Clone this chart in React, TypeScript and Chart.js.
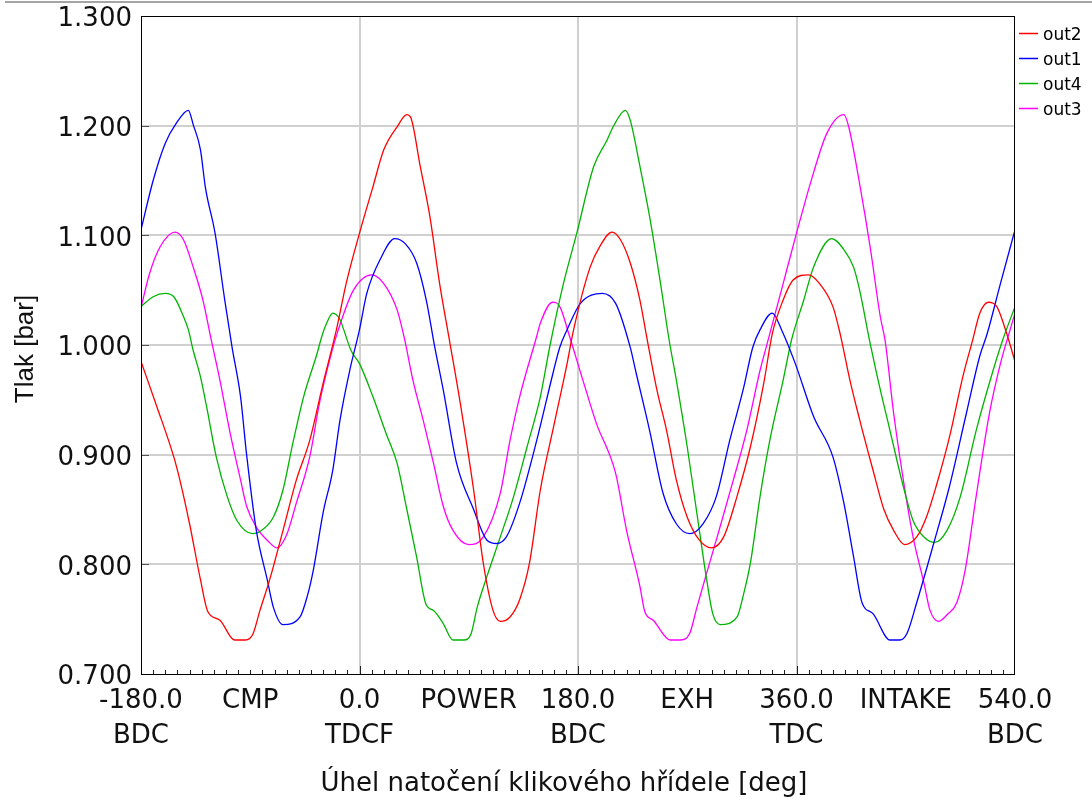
import { useEffect, useRef } from 'react';
import { Chart, registerables } from 'chart.js';

Chart.register(...registerables);

// ---- data ----
const SERIES_LABELS = ['out2', 'out1', 'out4', 'out3'];
const SERIES_COLORS = ['#ff0000', '#0000ff', '#00b400', '#ff00ff'];

const out2Angle = [-180, -167, -153, -148, -140, -131, -125, -115, -103, -94, -88, -82, -74, -63, -52, -41, -30, -19, -11, 0, 11, 20, 31, 39, 42, 50, 58, 66, 74, 83, 94, 102, 110, 116, 124, 132, 140, 149, 160, 171, 176, 190, 198, 208, 215, 223, 231, 237, 245, 253, 261, 270, 280, 290, 300, 311, 322, 333, 340, 349, 357, 370, 379, 390, 396, 404, 412, 423, 432, 440, 449, 459, 467, 475, 486, 497, 505, 511, 518, 525, 533, 540];
const out2Pressure = [0.985, 0.944, 0.898, 0.877, 0.837, 0.786, 0.757, 0.749, 0.731, 0.731, 0.736, 0.758, 0.786, 0.831, 0.877, 0.913, 0.965, 1.014, 1.056, 1.102, 1.144, 1.178, 1.199, 1.210, 1.208, 1.163, 1.117, 1.056, 1.005, 0.947, 0.868, 0.801, 0.758, 0.748, 0.752, 0.768, 0.801, 0.868, 0.926, 0.983, 1.012, 1.071, 1.090, 1.103, 1.096, 1.075, 1.041, 1.005, 0.959, 0.922, 0.877, 0.843, 0.822, 0.815, 0.825, 0.862, 0.907, 0.965, 1.010, 1.041, 1.059, 1.064, 1.056, 1.035, 1.010, 0.968, 0.932, 0.886, 0.850, 0.831, 0.818, 0.825, 0.843, 0.871, 0.916, 0.971, 1.004, 1.029, 1.039, 1.035, 1.011, 0.985];

const out1Angle = [-180, -170, -160, -151, -141, -137, -131, -127, -119, -111, -105, -98, -93, -85, -76, -71, -63, -49, -43, -38, -30, -22, -16, -8, 0, 6, 17, 29, 38, 47, 55, 62, 69, 80, 94, 105, 113, 121, 132, 146, 160, 165, 171, 182, 200, 211, 223, 228, 239, 250, 261, 272, 283, 294, 305, 316, 324, 330, 340, 348, 359, 374, 390, 399, 407, 414, 423, 437, 445, 451, 459, 473, 486, 500, 511, 517, 528, 540];
const out1Pressure = [1.105, 1.150, 1.184, 1.202, 1.214, 1.201, 1.178, 1.144, 1.102, 1.041, 0.998, 0.953, 0.900, 0.831, 0.786, 0.761, 0.745, 0.752, 0.771, 0.795, 0.847, 0.886, 0.932, 0.977, 1.014, 1.047, 1.078, 1.097, 1.092, 1.075, 1.041, 0.998, 0.959, 0.892, 0.850, 0.822, 0.819, 0.825, 0.856, 0.913, 0.977, 0.998, 1.014, 1.038, 1.047, 1.038, 0.998, 0.974, 0.922, 0.865, 0.837, 0.828, 0.837, 0.862, 0.913, 0.959, 0.998, 1.014, 1.029, 1.013, 0.983, 0.935, 0.898, 0.856, 0.807, 0.765, 0.755, 0.731, 0.731, 0.737, 0.765, 0.819, 0.871, 0.938, 0.990, 1.010, 1.056, 1.105];

const out4Angle = [-180, -170, -160, -153, -145, -141, -137, -131, -126, -118, -109, -101, -88, -82, -71, -63, -55, -46, -35, -31, -27, -22, -16, -13, -7, 0, 11, 22, 31, 39, 47, 55, 61, 69, 77, 86, 92, 97, 105, 116, 127, 138, 149, 157, 168, 179, 193, 204, 209, 219, 223, 231, 239, 248, 255, 261, 270, 278, 286, 291, 297, 311, 316, 322, 330, 338, 349, 356, 366, 374, 389, 399, 407, 412, 420, 426, 437, 448, 456, 465, 474, 484, 495, 508, 522, 530, 540];
const out4Pressure = [1.035, 1.044, 1.047, 1.044, 1.026, 1.014, 0.995, 0.971, 0.944, 0.898, 0.862, 0.840, 0.828, 0.830, 0.843, 0.868, 0.910, 0.953, 0.992, 1.008, 1.020, 1.029, 1.023, 1.014, 0.995, 0.983, 0.953, 0.919, 0.892, 0.850, 0.807, 0.763, 0.758, 0.746, 0.731, 0.731, 0.737, 0.761, 0.789, 0.825, 0.862, 0.907, 0.953, 1.000, 1.056, 1.102, 1.163, 1.187, 1.199, 1.214, 1.205, 1.163, 1.117, 1.056, 1.005, 0.968, 0.907, 0.846, 0.786, 0.755, 0.745, 0.752, 0.771, 0.801, 0.862, 0.913, 0.968, 1.005, 1.041, 1.071, 1.097, 1.087, 1.071, 1.050, 1.005, 0.974, 0.922, 0.871, 0.840, 0.825, 0.820, 0.831, 0.862, 0.922, 0.977, 1.005, 1.035];

const out3Angle = [-180, -173, -164, -152, -145, -137, -129, -122, -115, -107, -98, -93, -85, -76, -68, -60, -52, -41, -33, -24, -18, -5, 10, 20, 31, 37, 44, 53, 61, 69, 77, 90, 102, 116, 124, 132, 146, 149, 159, 165, 173, 184, 195, 211, 220, 231, 235, 242, 256, 264, 272, 278, 286, 297, 308, 319, 330, 337, 349, 360, 374, 385, 399, 403, 412, 421, 429, 433, 440, 448, 456, 465, 470, 477, 484, 492, 499, 508, 519, 528, 536, 540];
const out3Pressure = [1.034, 1.065, 1.090, 1.103, 1.096, 1.071, 1.041, 1.004, 0.968, 0.922, 0.877, 0.853, 0.834, 0.822, 0.815, 0.827, 0.856, 0.898, 0.947, 0.989, 1.012, 1.050, 1.064, 1.056, 1.032, 1.006, 0.968, 0.929, 0.892, 0.853, 0.831, 0.818, 0.825, 0.865, 0.913, 0.953, 1.008, 1.020, 1.039, 1.035, 1.008, 0.968, 0.929, 0.883, 0.831, 0.780, 0.757, 0.749, 0.731, 0.731, 0.737, 0.761, 0.792, 0.834, 0.877, 0.922, 0.977, 1.006, 1.056, 1.102, 1.157, 1.193, 1.210, 1.199, 1.147, 1.087, 1.026, 1.004, 0.938, 0.877, 0.825, 0.783, 0.758, 0.748, 0.754, 0.765, 0.795, 0.862, 0.938, 0.983, 1.014, 1.029];

const SERIES_ANGLES = [out2Angle, out1Angle, out4Angle, out3Angle];
const SERIES_PRESSURES = [out2Pressure, out1Pressure, out4Pressure, out3Pressure];

const X_MIN = -180;
const X_MAX = 540;
const X_MINOR_STEP = 10;
const X_GRID_VALUES = [0, 180, 360];
const X_TICK_VALUES = [-180, -90, 0, 90, 180, 270, 360, 450, 540];
const X_TICK_LABELS: (string | string[])[] = [
  ['-180.0', 'BDC'], 'CMP', ['0.0', 'TDCF'], 'POWER', ['180.0', 'BDC'],
  'EXH', ['360.0', 'TDC'], 'INTAKE', ['540.0', 'BDC'],
];
const Y_MIN = 0.7;
const Y_MAX = 1.3;
const Y_TICK_VALUES = [0.7, 0.8, 0.9, 1.0, 1.1, 1.2, 1.3];
const X_TITLE = 'Úhel natočení klikového hřídele [deg]';
const Y_TITLE = 'Tlak [bar]';

const SANS = '"DejaVu Sans", sans-serif';
const ARIAL = '"Liberation Sans", Arial, sans-serif';

const decorPlugin = {
  id: 'decor',
  afterDraw(chart: any) {
    const { ctx, chartArea: a, scales } = chart;
    const xs = scales.x;
    const ys = scales.y;
    ctx.save();
    // inner tick marks on x axis
    ctx.strokeStyle = '#222';
    ctx.lineWidth = 1;
    ctx.beginPath();
    for (let v = X_MIN + X_MINOR_STEP; v < X_MAX; v += X_MINOR_STEP) {
      const px = Math.round(xs.getPixelForValue(v)) + 0.5;
      const len = v % 180 === 0 ? 8 : 4;
      ctx.moveTo(px, a.bottom);
      ctx.lineTo(px, a.bottom - len);
    }
    ctx.stroke();
    // inner tick marks on y axis
    ctx.strokeStyle = '#555';
    ctx.beginPath();
    Y_TICK_VALUES.forEach((v) => {
      const py = Math.round(ys.getPixelForValue(v)) + 0.5;
      ctx.moveTo(a.left, py);
      ctx.lineTo(a.left + 8, py);
    });
    ctx.stroke();
    // frame
    ctx.strokeStyle = '#000';
    ctx.lineWidth = 1;
    ctx.strokeRect(a.left + 0.5, a.top + 0.5, a.right - a.left - 1, a.bottom - a.top);

    // legend
    chart.data.datasets.forEach((ds: any, i: number) => {
      const ly = 33.5 + 25 * i;
      ctx.strokeStyle = ds.borderColor;
      ctx.lineWidth = 1.5;
      ctx.beginPath();
      ctx.moveTo(1019, ly);
      ctx.lineTo(1038, ly);
      ctx.stroke();
      ctx.fillStyle = '#000';
      ctx.font = `17px ${SANS}`;
      ctx.textAlign = 'left';
      ctx.textBaseline = 'alphabetic';
      ctx.fillText(ds.label, 1043, ly + 6.5);
    });

    // axis titles
    ctx.fillStyle = '#111';
    ctx.font = `26px ${SANS}`;
    ctx.textAlign = 'center';
    ctx.textBaseline = 'alphabetic';
    ctx.fillText(X_TITLE, 564, 791);

    ctx.save();
    ctx.translate(33, 349);
    ctx.rotate(-Math.PI / 2);
    ctx.font = `26px ${ARIAL}`;
    ctx.textAlign = 'center';
    ctx.textBaseline = 'alphabetic';
    ctx.fillText(Y_TITLE, 0, 0);
    ctx.restore();

    ctx.restore();
  },
};

export default function App() {
  const canvasRef = useRef<HTMLCanvasElement | null>(null);

  useEffect(() => {
    const canvas = canvasRef.current;
    if (!canvas) return;
    const datasets = SERIES_LABELS.map((label, i) => ({
      label,
      data: SERIES_ANGLES[i].map((x, j) => ({ x, y: SERIES_PRESSURES[i][j] })),
      borderColor: SERIES_COLORS[i],
      backgroundColor: SERIES_COLORS[i],
      borderWidth: 1.3,
      pointRadius: 0,
      fill: false,
      cubicInterpolationMode: 'monotone' as const,
    }));

    const chart = new Chart(canvas, {
      type: 'line',
      data: { datasets },
      options: {
        responsive: false,
        animation: false,
        devicePixelRatio: 1,
        layout: { padding: { top: 16, right: 77, bottom: 0, left: 0 } },
        plugins: {
          legend: { display: false },
          tooltip: { enabled: false },
          title: { display: false },
        },
        scales: {
          x: {
            type: 'linear',
            min: X_MIN,
            max: X_MAX,
            afterFit: (s: any) => {
              s.height = 131;
              s.paddingLeft = 0;
              s.paddingRight = 0;
            },
            afterBuildTicks: (s: any) => {
              s.ticks = X_TICK_VALUES.map((v) => ({ value: v }));
            },
            ticks: {
              autoSkip: false,
              maxRotation: 0,
              minRotation: 0,
              padding: 10,
              color: '#111',
              font: { family: SANS, size: 26, lineHeight: '35px' },
              callback: (v: any) => {
                const idx = X_TICK_VALUES.indexOf(Number(v));
                return idx >= 0 ? X_TICK_LABELS[idx] : '';
              },
            },
            grid: {
              drawTicks: false,
              lineWidth: 2,
              color: (c: any) =>
                c.tick && X_GRID_VALUES.includes(c.tick.value) ? '#d0d0d0' : 'rgba(0,0,0,0)',
            },
            border: { display: false },
          },
          y: {
            type: 'linear',
            min: Y_MIN,
            max: Y_MAX,
            afterFit: (s: any) => {
              s.width = 141;
              s.paddingTop = 0;
              s.paddingBottom = 0;
            },
            afterBuildTicks: (s: any) => {
              s.ticks = Y_TICK_VALUES.map((v) => ({ value: v }));
            },
            ticks: {
              padding: 9,
              labelOffset: 3.5,
              color: '#111',
              font: { family: SANS, size: 26 },
              callback: (v: any) => Number(v).toFixed(3),
            },
            grid: {
              drawTicks: false,
              lineWidth: 2,
              color: (c: any) =>
                c.tick && c.tick.value > Y_MIN + 0.01 && c.tick.value < Y_MAX - 0.01
                  ? '#d0d0d0'
                  : 'rgba(0,0,0,0)',
            },
            border: { display: false },
          },
        },
      },
      plugins: [decorPlugin],
    });
    return () => chart.destroy();
  }, []);

  return (
    <div style={{ position: 'absolute', left: 0, top: 0, width: 1092, height: 805, background: '#fff' }}>
      <canvas ref={canvasRef} width={1092} height={805} style={{ display: 'block' }} />
      <div
        style={{
          position: 'absolute',
          left: 5,
          top: 1,
          width: 1087,
          height: 2,
          background: '#a5a5a5',
        }}
      />
    </div>
  );
}
